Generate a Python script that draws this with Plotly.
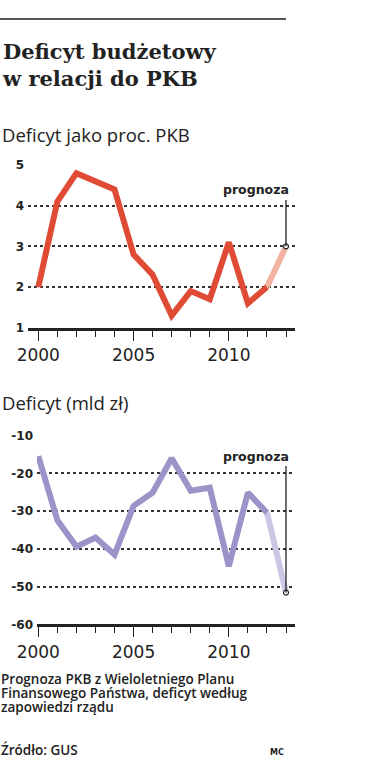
import plotly.graph_objects as go

W, H = 381, 760

years = list(range(2000, 2014))
pct_gdp = [2.0, 4.1, 4.8, 4.6, 4.4, 2.8, 2.3, 1.3, 1.9, 1.7, 3.1, 1.6, 2.0, 3.0]
deficit_bn = [-15.4, -32.4, -39.4, -37.0, -41.5, -28.6, -25.1, -16.0, -24.6, -23.8, -44.6, -25.1, -30.4, -51.6]
year_ticks = [2000, 2005, 2010]
pct_ticks = [1, 2, 3, 4, 5]
bn_ticks = [-60, -50, -40, -30, -20, -10]
bn_labels = ["-60", "-50", "-40", "-30", "-20", "-10"]
foot_lines = ["Prognoza PKB z Wieloletniego Planu",
              "Finansowego Państwa, deficyt według",
              "zapowiedzi rządu"]

RED, RED_L = "#e04b35", "#f2b3a3"
PUR, PUR_L = "#9b94c8", "#cbc7e4"
DARK = "#222222"

def px_x(p):
    return p / W

def px_y(p):
    return 1 - p / H

fig = go.Figure()

# top chart
fig.add_trace(go.Scatter(x=years[-2:], y=pct_gdp[-2:], mode="lines",
                         line=dict(color=RED_L, width=6), xaxis="x", yaxis="y", hoverinfo="skip"))
fig.add_trace(go.Scatter(x=years[:-1], y=pct_gdp[:-1], mode="lines",
                         line=dict(color=RED, width=6), xaxis="x", yaxis="y"))
fig.add_trace(go.Scatter(x=[years[-1]], y=[pct_gdp[-1]], mode="markers",
                         marker=dict(color="white", size=5, line=dict(color=DARK, width=1.2)),
                         xaxis="x", yaxis="y", cliponaxis=False))

# bottom chart
fig.add_trace(go.Scatter(x=years[-2:], y=deficit_bn[-2:], mode="lines",
                         line=dict(color=PUR_L, width=6), xaxis="x2", yaxis="y2", hoverinfo="skip"))
fig.add_trace(go.Scatter(x=years[:-1], y=deficit_bn[:-1], mode="lines",
                         line=dict(color=PUR, width=6), xaxis="x2", yaxis="y2"))
fig.add_trace(go.Scatter(x=[years[-1]], y=[deficit_bn[-1]], mode="markers",
                         marker=dict(color="white", size=5, line=dict(color=DARK, width=1.2)),
                         xaxis="x2", yaxis="y2", cliponaxis=False))

ppy = (286 - 38.3) / 13.0
tick_font = dict(family="DejaVu Sans", size=17, color=DARK)
ytick_font = dict(family="DejaVu Sans", size=12, color=DARK, weight="bold")

def xaxis_cfg(left_px, anchor):
    return dict(
        domain=[px_x(left_px), px_x(295)],
        range=[2000 - (38.3 - left_px) / ppy, 2013 + (295 - 286) / ppy],
        anchor=anchor, showgrid=False, zeroline=False,
        showline=True, linecolor=DARK, linewidth=3,
        tickmode="array", tickvals=year_ticks, ticks="outside", ticklen=10,
        tickwidth=1.3, tickcolor=DARK, tickfont=tick_font, ticklabelstandoff=0,
        minor=dict(dtick=1, tick0=2000, ticks="outside", ticklen=6, tickwidth=1.3,
                   tickcolor=DARK, showgrid=False),
        fixedrange=True,
    )

def yaxis_cfg(top_px, bot_px, rng, vals, texts, anchor):
    return dict(
        domain=[px_y(bot_px), px_y(top_px)], range=rng, anchor=anchor,
        tickmode="array", tickvals=vals, ticktext=texts, showgrid=True, gridcolor="#333333",
        griddash="dot", gridwidth=1.8, zeroline=False, showline=False,
        ticks="", tickfont=ytick_font, ticklabelstandoff=3, fixedrange=True,
    )

fig.update_layout(
    width=W, height=H, margin=dict(l=0, r=0, t=0, b=0, pad=0, autoexpand=False),
    paper_bgcolor="white", plot_bgcolor="white", showlegend=False,
    xaxis=xaxis_cfg(28, "y"),
    yaxis=yaxis_cfg(165, 327.7, [1, 5], pct_ticks, [str(v) for v in pct_ticks], "x"),
    xaxis2=xaxis_cfg(37, "y2"),
    yaxis2=yaxis_cfg(435.7, 624.3, [-60, -10], bn_ticks, bn_labels, "x2"),
)

# forecast pointer lines
fig.add_shape(type="line", xref="x", yref="y", x0=years[-1], x1=years[-1],
              y0=pct_gdp[-1], y1=4.14, line=dict(color=DARK, width=1.3))
fig.add_shape(type="line", xref="x2", yref="y2", x0=years[-1], x1=years[-1],
              y0=deficit_bn[-1], y1=-18.0, line=dict(color=DARK, width=1.3))

lab_font = dict(family="DejaVu Sans", size=12.5, color=DARK, weight="bold")
fig.add_annotation(x=2013.27, y=4.39, xref="x", yref="y", text="prognoza", showarrow=False,
                   xanchor="right", yanchor="middle", font=lab_font)
fig.add_annotation(x=2013.27, y=-15.4, xref="x2", yref="y2", text="prognoza", showarrow=False,
                   xanchor="right", yanchor="middle", font=lab_font)

# top rule
fig.add_shape(type="line", xref="paper", yref="paper", x0=0, x1=px_x(286),
              y0=px_y(19), y1=px_y(19), line=dict(color="#555555", width=2))

# titles
fig.add_annotation(x=px_x(0), y=px_y(37), xref="paper", yref="paper", xanchor="left", yanchor="top",
                   text="Deficyt budżetowy<br>w relacji do PKB", showarrow=False, align="left",
                   font=dict(family="DejaVu Serif", size=21, color=DARK, weight="bold"))
fig.add_annotation(x=px_x(0), y=px_y(134), xref="paper", yref="paper", xanchor="left", yanchor="middle",
                   text="Deficyt jako proc. PKB", showarrow=False,
                   font=dict(family="Open Sans", size=18.5, color=DARK))
fig.add_annotation(x=px_x(0), y=px_y(402), xref="paper", yref="paper", xanchor="left", yanchor="middle",
                   text="Deficyt (mld zł)", showarrow=False,
                   font=dict(family="Open Sans", size=18.5, color=DARK))

foot_font = dict(family="Open Sans", size=13.5, color=DARK, weight=600)
for i, line in enumerate(foot_lines):
    fig.add_annotation(x=px_x(0), y=px_y(679 + 14 * i), xref="paper", yref="paper",
                       xanchor="left", yanchor="middle", text=line, showarrow=False,
                       font=foot_font, borderpad=0)
fig.add_annotation(x=px_x(0), y=px_y(750), xref="paper", yref="paper", xanchor="left", yanchor="middle",
                   text="Źródło: GUS", showarrow=False, font=foot_font, borderpad=0)
fig.add_annotation(x=px_x(268), y=px_y(752), xref="paper", yref="paper", xanchor="left", yanchor="middle",
                   text="MC", showarrow=False,
                   font=dict(family="DejaVu Sans", size=8, color=DARK, weight="bold"))

fig.write_html("out.html", config={"displayModeBar": False},
               post_script="document.body.style.margin='0px';document.body.style.overflow='hidden';")
